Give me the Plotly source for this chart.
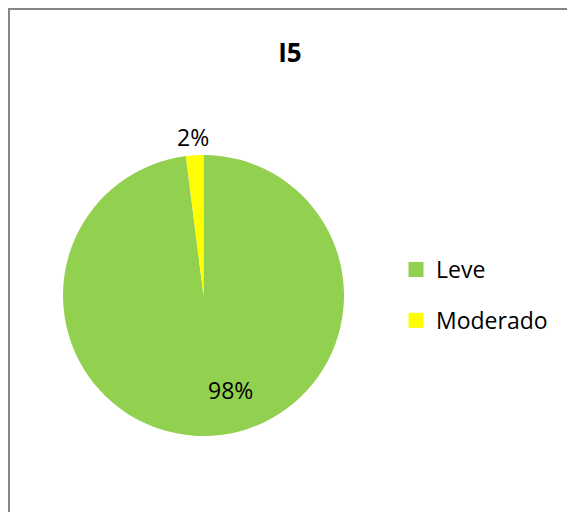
import plotly.graph_objects as go

categories = ["Leve", "Moderado"]
values = [98, 2]
colors = ["#92D050", "#FFFF00"]
title_text = "I5"

W, H = 567, 512
FONT = "Open Sans"


def px(x):
    return x / W


def py(y):
    return 1 - y / H


total = sum(values)
pct_text = [f"{round(100 * v / total)}%" for v in values]

fig = go.Figure()

fig.add_trace(go.Pie(
    labels=categories,
    values=values,
    sort=False,
    direction="clockwise",
    rotation=0,
    marker=dict(colors=colors, line=dict(width=0)),
    textinfo="none",
    domain=dict(x=[px(63), px(344)], y=[py(436), py(155)]),
    showlegend=False,
    hoverinfo="label+percent",
))

# legend entries
for cat, col in zip(categories, colors):
    fig.add_trace(go.Scatter(
        x=[None], y=[None], mode="markers", name=cat,
        marker=dict(symbol="square", size=15, color=col),
        legendgroup=cat, showlegend=True,
    ))

label_pos = [(230, 390), (193, 137)]
annotations = [
    dict(text=t, x=px(x), y=py(y), xref="paper", yref="paper",
         xanchor="center", yanchor="middle", showarrow=False,
         font=dict(family=FONT, size=23, color="#000000"))
    for t, (x, y) in zip(pct_text, label_pos)
]

fig.update_layout(
    width=W, height=H,
    margin=dict(l=0, r=0, t=0, b=0),
    paper_bgcolor="#FFFFFF",
    plot_bgcolor="#FFFFFF",
    title=dict(text="<b>" + title_text + "</b>", x=px(290), xanchor="center",
               y=py(53), yanchor="middle",
               font=dict(family=FONT, size=26, color="#000000")),
    xaxis=dict(visible=False),
    yaxis=dict(visible=False),
    legend=dict(x=px(396), y=py(248), xanchor="left", yanchor="top",
                font=dict(family=FONT, size=23, color="#000000"),
                tracegroupgap=18, bgcolor="rgba(0,0,0,0)"),
    annotations=annotations,
    shapes=[
        dict(type="line", xref="paper", yref="paper",
             x0=px(8), x1=1.0, y0=py(9), y1=py(9),
             line=dict(color="#868686", width=2)),
        dict(type="line", xref="paper", yref="paper",
             x0=px(9), x1=px(9), y0=py(9), y1=0.0,
             line=dict(color="#868686", width=2)),
    ],
)

fig.write_html(
    "out.html",
    config={"displayModeBar": False},
    post_script="document.body.style.margin='0';document.body.style.overflow='hidden';",
)
